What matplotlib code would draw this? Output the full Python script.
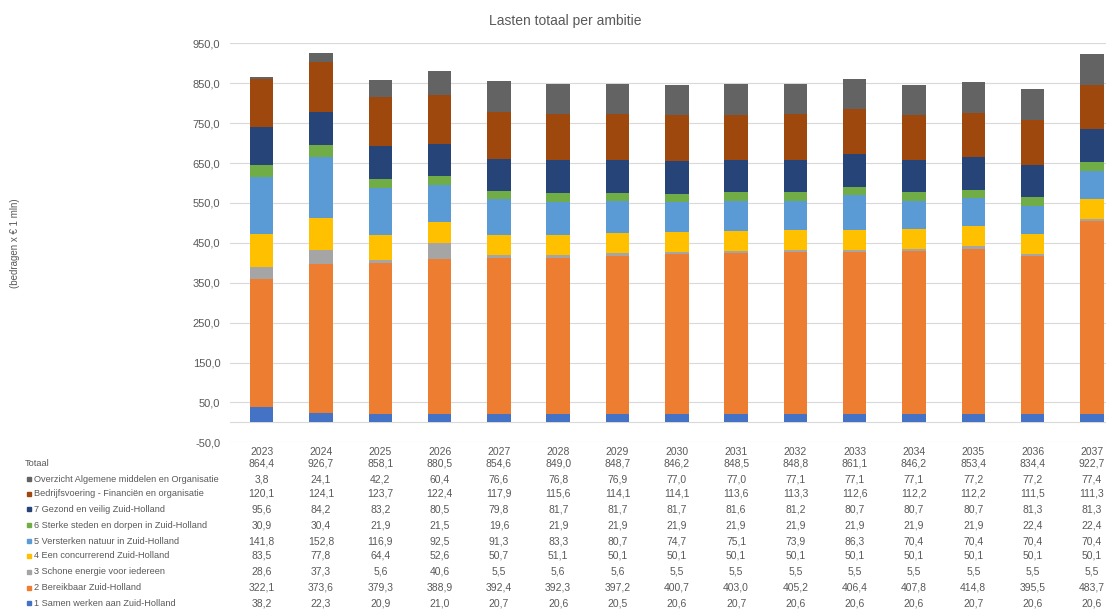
import matplotlib.pyplot as plt
import numpy as np
from matplotlib.patches import Rectangle

plt.rcParams['font.family'] = ['Liberation Sans', 'DejaVu Sans']

years = ['2023', '2024', '2025', '2026', '2027', '2028', '2029', '2030',
         '2031', '2032', '2033', '2034', '2035', '2036', '2037']
totaal = [864.4, 926.7, 858.1, 880.5, 854.6, 849.0, 848.7, 846.2,
          848.5, 848.8, 861.1, 846.2, 853.4, 834.4, 922.7]

# series, bottom of the stack first
series_names = [
    '1 Samen werken aan Zuid-Holland',
    '2 Bereikbaar Zuid-Holland',
    '3 Schone energie voor iedereen',
    '4 Een concurrerend Zuid-Holland',
    '5 Versterken natuur in Zuid-Holland',
    '6 Sterke steden en dorpen in Zuid-Holland',
    '7 Gezond en veilig Zuid-Holland',
    'Bedrijfsvoering - Financiën en organisatie',
    'Overzicht Algemene middelen en Organisatie',
]
samen = [38.2, 22.3, 20.9, 21.0, 20.7, 20.6, 20.5, 20.6, 20.7, 20.6, 20.6, 20.6, 20.7, 20.6, 20.6]
bereikbaar = [322.1, 373.6, 379.3, 388.9, 392.4, 392.3, 397.2, 400.7, 403.0, 405.2, 406.4, 407.8, 414.8, 395.5, 483.7]
energie = [28.6, 37.3, 5.6, 40.6, 5.5, 5.6, 5.6, 5.5, 5.5, 5.5, 5.5, 5.5, 5.5, 5.5, 5.5]
concurrerend = [83.5, 77.8, 64.4, 52.6, 50.7, 51.1, 50.1, 50.1, 50.1, 50.1, 50.1, 50.1, 50.1, 50.1, 50.1]
natuur = [141.8, 152.8, 116.9, 92.5, 91.3, 83.3, 80.7, 74.7, 75.1, 73.9, 86.3, 70.4, 70.4, 70.4, 70.4]
steden = [30.9, 30.4, 21.9, 21.5, 19.6, 21.9, 21.9, 21.9, 21.9, 21.9, 21.9, 21.9, 21.9, 22.4, 22.4]
gezond = [95.6, 84.2, 83.2, 80.5, 79.8, 81.7, 81.7, 81.7, 81.6, 81.2, 80.7, 80.7, 80.7, 81.3, 81.3]
bedrijfsvoering = [120.1, 124.1, 123.7, 122.4, 117.9, 115.6, 114.1, 114.1, 113.6, 113.3, 112.6, 112.2, 112.2, 111.5, 111.3]
overzicht = [3.8, 24.1, 42.2, 60.4, 76.6, 76.8, 76.9, 77.0, 77.0, 77.1, 77.1, 77.1, 77.2, 77.2, 77.4]

series_values = [samen, bereikbaar, energie, concurrerend, natuur,
                 steden, gezond, bedrijfsvoering, overzicht]
colors = ['#4472C4', '#ED7D31', '#A5A5A5', '#FFC000', '#5B9BD5',
          '#70AD47', '#264478', '#9E480E', '#636363']

W, H = 1106, 609
fig = plt.figure(figsize=(W / 100, H / 100), dpi=100)

# plot area in pixels
x0, x1 = 230, 1106
y_top, y_bot = 43.3, 442.3
first_c, step = 261.7, 59.3
ax = fig.add_axes([x0 / W, 1 - y_bot / H, (x1 - x0) / W, (y_bot - y_top) / H])

x = np.arange(len(years))
bottom = np.zeros(len(years))
for vals, c in zip(series_values, colors):
    ax.bar(x, vals, width=0.396, bottom=bottom, color=c, zorder=3)
    bottom += np.array(vals)

ax.set_ylim(-50, 950)
ax.set_xlim(-(first_c - x0) / step, (x1 - first_c) / step)
yt = np.arange(-50, 951, 100)
ax.set_yticks(yt)
ax.set_yticklabels([f'{v:.1f}'.replace('.', ',') for v in yt], color='#595959', fontsize=8)
ax.tick_params(axis='y', length=0, pad=7)
ax.set_xticks([])
ax.grid(axis='y', color='#D9D9D9', linewidth=0.8, zorder=0)
ax.axhline(0, color='#D9D9D9', linewidth=0.8, zorder=1)
for s in ax.spines.values():
    s.set_visible(False)

fig.text(565 / W, 1 - 21 / H, 'Lasten totaal per ambitie',
         ha='center', va='center', fontsize=10, color='#595959')
fig.text(15 / W, 1 - 243 / H, '(bedragen x € 1 mln)', rotation=90,
         ha='center', va='center', fontsize=7, color='#595959')

# data table below the chart
def px_x(i):
    return (first_c + i * step) / W

txt = dict(va='center', fontsize=7.5, color='#595959')
row_y = [452, 464, 479, 494, 509, 525, 541, 556, 572, 588, 603]
for i, yr in enumerate(years):
    fig.text(px_x(i), 1 - row_y[0] / H, yr, ha='center', **txt)
    fig.text(px_x(i), 1 - row_y[1] / H, f'{totaal[i]:.1f}'.replace('.', ','), ha='center', **txt)
fig.text(25 / W, 1 - row_y[1] / H, 'Totaal', ha='left', va='center', fontsize=6.7, color='#595959')

for k in range(len(series_names)):
    idx = len(series_names) - 1 - k
    yy = 1 - row_y[2 + k] / H
    fig.patches.append(Rectangle((27 / W, yy - 2 / H), 4 / W, 4 / H,
                                 transform=fig.transFigure, color=colors[idx], figure=fig))
    fig.text(33.5 / W, yy, series_names[idx], ha='left', va='center', fontsize=6.6, color='#595959')
    for i in range(len(years)):
        fig.text(px_x(i), yy, f'{series_values[idx][i]:.1f}'.replace('.', ','), ha='center', **txt)

fig.savefig('out.png', dpi=100)
